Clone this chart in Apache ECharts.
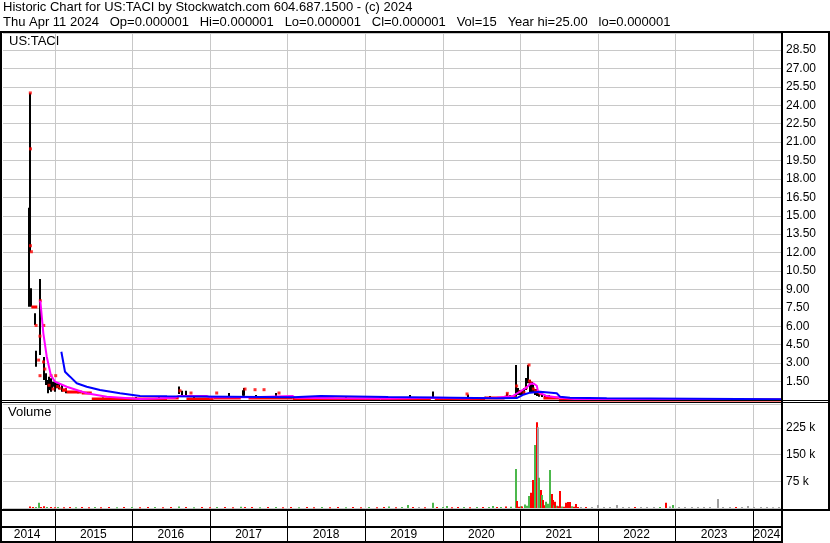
<!DOCTYPE html>
<html>
<head>
<meta charset="utf-8">
<script src="https://cdn.jsdelivr.net/npm/echarts/dist/echarts.min.js"></script>
<style>
html,body{margin:0;padding:0;background:#fff;}
#chart{width:830px;height:543px;}
</style>
</head>
<body>
<div id="chart"></div>
<script>
// ---------------- DATA (dates as decimal years) ----------------
const yearBoundaries = [2015, 2016, 2017, 2018, 2019, 2020, 2021, 2022, 2023, 2024];
const yearLabels = ['2014','2015','2016','2017','2018','2019','2020','2021','2022','2023','2024'];
const yearLabelPos = [2014.646, 2015.5, 2016.5, 2017.5, 2018.5, 2019.5, 2020.5, 2021.5, 2022.5, 2023.5, 2024.18];

// price high-low bars
const hlDate = [2014.671,2014.688,2014.701,2014.753,2014.756,2014.807,2014.817,2014.869,2014.890,2014.920,
  2014.933,2014.951,2014.968,2014.994,2015.006,2015.032,2015.058,2015.097,2015.148,2015.300,
  2015.620,2016.050,2016.350,2016.608,2016.640,2016.697,2016.800,2017.245,2017.430,2017.446,
  2017.600,2017.854,2018.300,2018.750,2019.200,2019.580,2019.881,2020.330,2020.548,2020.613,
  2020.827,2020.870,2020.947,2020.972,2020.998,2021.024,2021.050,2021.082,2021.106,2021.128,
  2021.147,2021.166,2021.192,2021.218,2021.244,2021.282,2021.321,2021.373,2021.424,2021.476];
const hlHigh = [15.66,25.00,9.10,7.06,4.00,9.85,8.80,3.50,2.17,1.63,
  1.90,1.77,1.49,1.49,1.49,1.36,1.36,1.22,0.95,0.70,
  0.20,0.25,0.30,1.10,0.75,0.76,0.35,0.57,0.80,0.97,
  0.40,0.57,0.25,0.22,0.20,0.40,0.70,0.45,0.27,0.33,
  0.55,0.41,2.85,0.98,0.81,0.73,0.98,1.79,2.85,1.63,
  1.47,1.22,0.90,0.90,0.73,0.57,0.41,0.41,0.33,0.24];
const hlLow = [7.60,12.08,7.60,6.10,2.70,3.66,7.30,1.63,1.22,0.54,
  0.81,0.68,0.95,1.08,0.68,0.95,0.87,0.68,0.54,0.55,
  0.05,0.08,0.10,0.49,0.40,0.33,0.15,0.30,0.35,0.35,
  0.20,0.30,0.10,0.08,0.08,0.20,0.24,0.20,0.08,0.08,
  0.27,0.16,0.27,0.41,0.41,0.41,0.49,0.81,1.36,0.65,
  0.57,0.57,0.41,0.33,0.27,0.24,0.16,0.12,0.08,0.08];

// closing prices shown as single ticks
const closeDate = [2014.688,2014.690,2014.690,2014.702,2014.762,2014.817,2014.861,2014.812,2014.795,2014.858,
  2014.813,2014.875,2014.955,2015.015,2014.930,2014.980,2015.040,2015.070,2015.120,
  2016.617,2016.759,2017.090,2017.455,2017.584,2017.700,2017.893,2020.316,
  2020.835,2020.955,2020.998,2021.115,2021.120,2021.140,2021.170,2021.200,2021.230,2021.260,2021.050,2021.080];
const closeValue = [25.00,20.45,12.56,12.07,6.07,8.08,6.07,5.20,3.25,3.10,
  1.98,2.52,1.98,1.98,1.20,0.90,1.10,0.95,0.80,
  0.75,0.57,0.57,0.89,0.84,0.84,0.57,0.49,
  0.54,1.14,0.68,2.85,1.55,1.40,0.90,0.75,0.65,0.50,0.60,1.00];

// runs of unchanged closing price
const runStart = [2014.701,2015.100,2015.157,2015.350,2015.480,2016.100,2016.450,2016.700,2017.050,2017.500,
  2018.070,2019.200,2019.900,2020.550,2020.800,2021.300,2021.500];
const runEnd = [2014.778,2015.160,2015.350,2015.480,2016.100,2016.450,2016.600,2017.050,2017.400,2018.070,
  2019.200,2019.850,2020.550,2020.800,2020.940,2021.500,2024.362];
const runValue = [7.60,0.85,0.62,0.55,0.05,0.08,0.15,0.12,0.14,0.14,
  0.08,0.10,0.08,0.18,0.25,0.14,0.03];

// short moving average (magenta)
const maFastDate = [2014.817,2014.856,2014.900,2014.952,2015.006,2015.157,2015.415,2015.673,2016.100,2016.300,
  2016.550,2016.600,2016.960,2017.000,2017.550,2017.570,2018.070,2018.100,2018.600,2019.300,
  2019.880,2020.300,2020.700,2020.900,2020.990,2021.080,2021.128,2021.170,2021.215,2021.232,
  2021.330,2021.460,2021.700,2022.200,2024.362];
const maFastValue = [8.08,5.43,3.52,2.03,1.49,1.08,0.55,0.27,0.08,0.12,
  0.18,0.33,0.33,0.22,0.22,0.33,0.33,0.18,0.14,0.12,
  0.18,0.14,0.18,0.30,0.65,1.00,1.30,1.35,1.16,0.65,
  0.35,0.22,0.08,0.04,0.03];

// long moving average (blue)
const maSlowDate = [2015.088,2015.135,2015.200,2015.286,2015.415,2015.586,2015.844,2016.102,2016.450,2016.470,
  2018.070,2018.090,2018.430,2018.450,2019.300,2019.320,2020.700,2020.956,2021.050,2021.128,
  2021.257,2021.472,2021.514,2021.643,2022.116,2022.133,2024.362];
const maSlowValue = [3.93,2.30,1.90,1.36,1.08,0.81,0.55,0.33,0.30,0.22,
  0.22,0.33,0.33,0.25,0.25,0.16,0.14,0.16,0.45,0.60,
  0.68,0.55,0.27,0.19,0.14,0.07,0.06];

// volume (u = up day, d = down day, n = unchanged)
const volDate = [2014.680,2014.720,2014.760,2014.795,2014.830,2014.865,2014.900,2014.950,2015.000,2015.050,
  2015.120,2015.200,2015.280,2015.360,2015.440,2015.520,2015.600,2015.700,2015.800,2015.900,
  2016.000,2016.100,2016.200,2016.300,2016.400,2016.500,2016.610,2016.700,2016.800,2016.900,
  2017.000,2017.100,2017.200,2017.300,2017.400,2017.450,2017.550,2017.650,2017.750,2017.850,
  2017.950,2018.050,2018.150,2018.250,2018.350,2018.450,2018.550,2018.650,2018.750,2018.850,
  2018.950,2019.050,2019.150,2019.250,2019.310,2019.400,2019.480,2019.550,2019.620,2019.700,
  2019.780,2019.878,2019.930,2020.000,2020.058,2020.120,2020.200,2020.280,2020.360,2020.440,
  2020.520,2020.600,2020.650,2020.700,2020.760,2020.820,2020.880,
  2020.944,2020.960,2020.985,2021.005,2021.030,2021.063,2021.085,2021.112,2021.134,2021.146,
  2021.160,2021.192,2021.218,2021.231,2021.240,2021.263,2021.282,2021.295,2021.310,2021.338,
  2021.360,2021.383,2021.407,2021.418,2021.435,2021.450,2021.470,2021.490,2021.514,2021.540,
  2021.560,2021.589,2021.613,2021.628,2021.643,2021.665,2021.690,2021.718,2021.740,
  2021.780,2021.850,2021.920,2022.004,2022.080,2022.160,2022.245,2022.320,2022.400,2022.480,
  2022.560,2022.640,2022.720,2022.800,2022.880,2022.930,2022.970,2023.050,2023.130,2023.210,
  2023.290,2023.370,2023.450,2023.555,2023.620,2023.700,2023.780,2023.860,2023.940,2024.020,
  2024.100,2024.180,2024.260,2024.330];
const volValue = [4000,3000,2500,15000,3000,5000,2500,3000,2000,2500,
  2000,3000,2000,2500,2000,3000,2000,2500,2000,3000,
  2500,2000,3000,2500,2000,3000,4000,2500,2000,3000,
  2000,2500,3000,2000,3500,3000,2500,2000,3000,2500,
  2000,2500,2000,3000,2000,2500,2000,3000,2000,2500,
  2000,3000,2000,2500,4000,2000,2500,8400,2500,3000,
  2000,14900,3000,2500,5600,2000,3000,2500,2000,3000,
  2500,3000,5600,2500,3000,4000,3500,
  109500,19700,3500,5000,4500,10000,6000,33700,19700,43000,
  78600,177000,241000,226600,85000,50500,36500,22500,8000,17700,
  12000,106700,39300,22500,8000,17700,6000,5000,47700,4000,
  3500,14900,16800,16800,16800,5000,3500,11200,3000,
  3000,2500,3000,8400,3000,2500,8400,3000,2500,3000,
  2500,3000,2500,3000,14900,4000,8400,3000,2500,3000,
  2500,3000,2500,25000,3000,2500,3000,2500,5600,3000,
  2500,3000,2000,2500];
const volDir = ['d','d','u','u','d','d','u','d','d','u',
  'd','d','u','d','d','u','d','d','u','d',
  'u','d','d','u','d','d','u','d','u','d',
  'd','u','d','d','u','d','d','u','d','u',
  'd','d','u','d','d','u','d','d','u','d',
  'd','u','d','d','u','d','u','u','d','n',
  'd','u','d','u','u','d','d','u','d','u',
  'd','u','u','d','u','d','u',
  'u','d','d','u','d','u','u','u','d','d',
  'd','u','d','n','u','d','u','d','d','u',
  'u','u','d','d','u','d','u','d','d','u',
  'd','d','d','d','d','u','d','d','d',
  'n','d','n','n','n','n','n','n','n','d',
  'n','n','n','u','d','n','u','n','n','n',
  'n','n','n','n','n','n','d','n','n','n',
  'n','n','n','n'];

// ---------------- CHART ----------------
const FONT = '"Liberation Sans", Arial, sans-serif';
const X_MIN = 2014.336, X_MAX = 2024.362;
const DIR_COLOR = {u: '#4cb84c', d: '#ff0000', n: '#a0a0a0'};
const GRID_GRAY = '#c8c8c8';

function vLines(color) {
  return function (params, api) {
    const cs = params.coordSys;
    const x = Math.round(api.coord([api.value(0), 0])[0]) + 0.5;
    return {type: 'line', shape: {x1: x, y1: cs.y, x2: x, y2: cs.y + cs.height},
      style: {stroke: color, lineWidth: 1}};
  };
}

const xAxisBase = {type: 'value', min: X_MIN, max: X_MAX, show: false};

const option = {
  animation: false,
  backgroundColor: '#fff',
  grid: [
    {left: 3, right: 49, top: 33, height: 367},
    {left: 3, right: 49, top: 404, height: 104},
    {left: 3, right: 49, top: 511, height: 31}
  ],
  xAxis: [
    Object.assign({gridIndex: 0}, xAxisBase),
    Object.assign({gridIndex: 1}, xAxisBase),
    Object.assign({gridIndex: 2}, xAxisBase)
  ],
  yAxis: [
    {gridIndex: 0, type: 'value', position: 'right', min: 0, max: 29.88, interval: 1.5,
      axisLine: {show: false}, axisTick: {show: false},
      splitLine: {show: true, lineStyle: {color: GRID_GRAY, width: 1}},
      axisLabel: {margin: 5, color: '#000', fontSize: 12, fontFamily: FONT,
        formatter: v => (v <= 0 || Math.abs(v / 1.5 - Math.round(v / 1.5)) > 1e-6) ? '' : v.toFixed(2)}},
    {gridIndex: 1, type: 'value', position: 'right', min: 0, max: 292000, interval: 75000,
      axisLine: {show: false}, axisTick: {show: false},
      splitLine: {show: true, lineStyle: {color: GRID_GRAY, width: 1}},
      axisLabel: {margin: 5, color: '#000', fontSize: 12, fontFamily: FONT,
        formatter: v => (v > 0 && v % 75000 === 0) ? (v / 1000) + ' k' : ''}},
    {gridIndex: 2, type: 'value', min: 0, max: 1, show: false}
  ],
  series: [
    // year grid lines
    {type: 'custom', xAxisIndex: 0, yAxisIndex: 0, z: 1, silent: true,
      data: yearBoundaries.map(y => [y, 0]), renderItem: vLines(GRID_GRAY)},
    {type: 'custom', xAxisIndex: 1, yAxisIndex: 1, z: 1, silent: true,
      data: yearBoundaries.map(y => [y, 0]), renderItem: vLines(GRID_GRAY)},
    {type: 'custom', xAxisIndex: 2, yAxisIndex: 2, z: 1, silent: true,
      data: yearBoundaries.map(y => [y, 0]), renderItem: vLines('#000')},
    // year labels
    {type: 'custom', xAxisIndex: 2, yAxisIndex: 2, z: 3, silent: true,
      data: yearLabelPos.map(p => [p, 0]),
      renderItem: function (params, api) {
        const cs = params.coordSys;
        const x = api.coord([api.value(0), 0])[0];
        return {type: 'text', x: x, y: cs.y + cs.height - 7,
          style: {text: yearLabels[params.dataIndex], textAlign: 'center', textVerticalAlign: 'middle',
            font: '12px ' + FONT, fill: '#000'}};
      }},
    // high-low bars
    {type: 'custom', xAxisIndex: 0, yAxisIndex: 0, z: 2, silent: true,
      encode: {x: 0, y: [1, 2]},
      data: hlDate.map((d, i) => [d, hlHigh[i], hlLow[i]]),
      renderItem: function (params, api) {
        const p1 = api.coord([api.value(0), api.value(1)]);
        const p2 = api.coord([api.value(0), api.value(2)]);
        const x = Math.round(p1[0]);
        return {type: 'rect', shape: {x: x - 1, y: p1[1], width: 2, height: Math.max(1, p2[1] - p1[1])},
          style: {fill: '#000'}};
      }},
    // close runs
    {type: 'custom', xAxisIndex: 0, yAxisIndex: 0, z: 3, silent: true,
      encode: {x: [0, 1], y: 2},
      data: runStart.map((s, i) => [s, runEnd[i], runValue[i]]),
      renderItem: function (params, api) {
        const p1 = api.coord([api.value(0), api.value(2)]);
        const p2 = api.coord([api.value(1), api.value(2)]);
        return {type: 'rect', shape: {x: p1[0], y: Math.round(p1[1]) - 1.5, width: Math.max(2, p2[0] - p1[0]), height: 3},
          style: {fill: '#ff0000'}};
      }},
    // close ticks
    {type: 'scatter', xAxisIndex: 0, yAxisIndex: 0, z: 4, silent: true,
      symbol: 'rect', symbolSize: [3, 3], itemStyle: {color: '#ff0000'},
      data: closeDate.map((d, i) => [d, closeValue[i]])},
    // moving averages
    {type: 'line', xAxisIndex: 0, yAxisIndex: 0, z: 5, silent: true, showSymbol: false,
      lineStyle: {color: '#ff00ff', width: 2}, data: maFastDate.map((d, i) => [d, maFastValue[i]])},
    {type: 'line', xAxisIndex: 0, yAxisIndex: 0, z: 5, silent: true, showSymbol: false,
      lineStyle: {color: '#0000ff', width: 2}, data: maSlowDate.map((d, i) => [d, maSlowValue[i]])},
    // volume bars
    {type: 'custom', xAxisIndex: 1, yAxisIndex: 1, z: 3, silent: true,
      data: volDate.map((d, i) => ({value: [d, volValue[i]], itemStyle: {color: DIR_COLOR[volDir[i]]}})),
      renderItem: function (params, api) {
        const top = api.coord([api.value(0), api.value(1)]);
        const base = api.coord([api.value(0), 0]);
        const x = Math.round(top[0]) - 1;
        return {type: 'rect', shape: {x: x, y: top[1], width: 2, height: Math.max(1, base[1] - top[1])},
          style: {fill: api.visual('color')}};
      }}
  ],
  graphic: [
    {type: 'text', left: 3, top: 1, style: {text: 'Historic Chart for US:TACI by Stockwatch.com 604.687.1500 - (c) 2024', font: '13px ' + FONT, fill: '#000'}},
    {type: 'text', left: 3, top: 16, style: {text: 'Thu Apr 11 2024   Op=0.000001   Hi=0.000001   Lo=0.000001   Cl=0.000001   Vol=15   Year hi=25.00   lo=0.000001', font: '13px ' + FONT, fill: '#000'}},
    {type: 'text', left: 9, top: 35, z: 10, style: {text: 'US:TACI', font: '13px ' + FONT, fill: '#000'}},
    {type: 'text', left: 8, top: 406, z: 10, style: {text: 'Volume', font: '13px ' + FONT, fill: '#000'}},
    {type: 'rect', z: 10, shape: {x: 0, y: 31, width: 830, height: 2}, style: {fill: '#000'}},
    {type: 'rect', z: 10, shape: {x: 0, y: 31, width: 2, height: 512}, style: {fill: '#000'}},
    {type: 'rect', z: 10, shape: {x: 828, y: 31, width: 2, height: 480}, style: {fill: '#000'}},
    {type: 'rect', z: 10, shape: {x: 781, y: 31, width: 2, height: 512}, style: {fill: '#000'}},
    {type: 'rect', z: 10, shape: {x: 0, y: 400, width: 830, height: 1}, style: {fill: '#000'}},
    {type: 'rect', z: 10, shape: {x: 0, y: 402, width: 830, height: 1}, style: {fill: '#000'}},
    {type: 'rect', z: 10, shape: {x: 0, y: 509, width: 830, height: 2}, style: {fill: '#000'}},
    {type: 'rect', z: 10, shape: {x: 0, y: 526, width: 782, height: 2}, style: {fill: '#000'}},
    {type: 'rect', z: 10, shape: {x: 0, y: 541, width: 782, height: 2}, style: {fill: '#000'}}
  ]
};

const chart = echarts.init(document.getElementById('chart'), null, {renderer: 'canvas'});
chart.setOption(option);
</script>
</body>
</html>
